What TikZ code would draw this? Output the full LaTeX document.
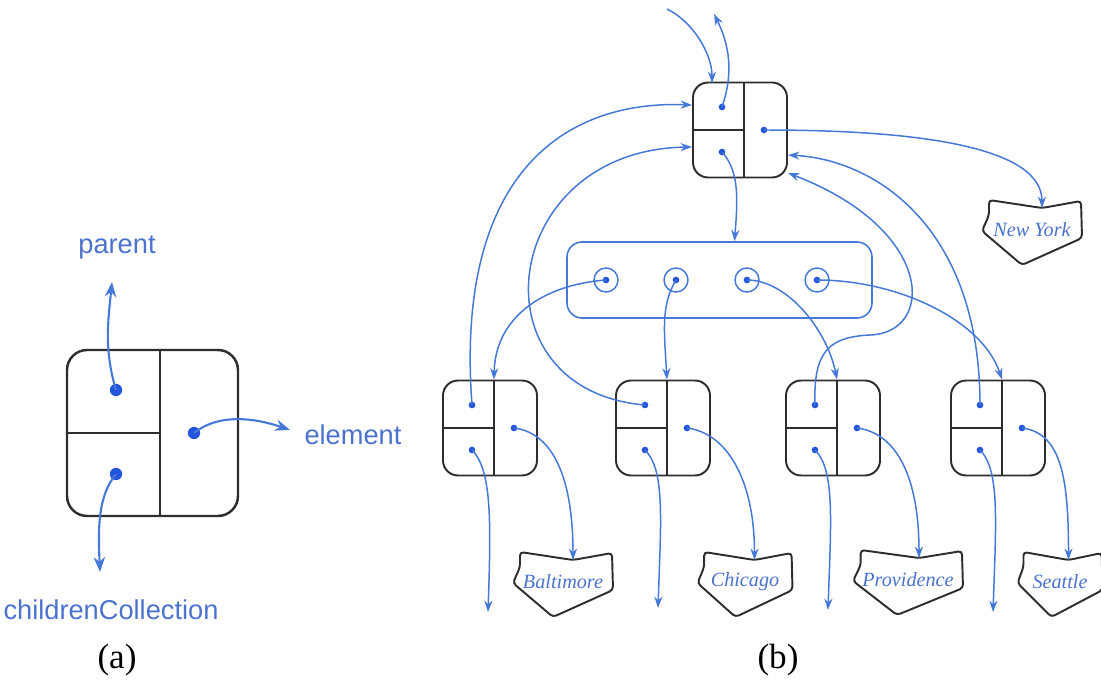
\documentclass[tikz,border=0pt]{standalone}
\usepackage{fontspec}
\setmainfont{Liberation Serif}
\setsansfont{Liberation Sans}
\usetikzlibrary{arrows.meta,calc}
\definecolor{lblue}{RGB}{70,120,215}
\definecolor{dblue}{RGB}{35,85,220}
\definecolor{tblue}{RGB}{75,115,205}
\definecolor{boxc}{RGB}{45,45,45}
\newcommand\qnode[3]{%
  \node[qbox] (#1) at (#2,#3) {};
  \draw[boxline] ($(#1.north)+(4,0)$) -- ($(#1.south)+(4,0)$);
  \draw[boxline] (#1.west) -- ($(#1.center)+(4,0)$);
  \node[bdot] (#1-p) at ($(#1.center)+(-18,-23)$) {};
  \node[bdot] (#1-c) at ($(#1.center)+(-18,22)$) {};
  \node[bdot] (#1-e) at ($(#1.center)+(24,0)$) {};
}
\newcommand\blob[5]{%
  \begin{scope}[shift={(#2,#3)}, xscale=#4]
    \draw[draw=boxc, line width=1.1pt, rounded corners=2pt]
      (-43,-33) -- (10,-25) -- (49,-32) -- (50,5) -- (-10,32) -- (-50,-2) -- (-43,-18) -- cycle;
    \coordinate (#1-top) at (10,-25);
  \end{scope}
  \node[blobtext] (#1) at ($(#2,#3)+(0,-3)$) {#5};
}
\begin{document}
\begin{tikzpicture}[x=0.02cm,y=-0.02cm,
  link/.style={draw=lblue, line width=0.85pt, -{Stealth[length=6.5pt,width=4.6pt]}},
  biglink/.style={draw=lblue, line width=1.2pt, -{Stealth[length=8.5pt,width=6.5pt]}},
  boxline/.style={draw=boxc, line width=1.1pt},
  aline/.style={draw=boxc, line width=1.4pt},
  qbox/.style={draw=boxc, line width=1.1pt, rounded corners=0.3cm, minimum width=1.88cm, minimum height=1.9cm, inner sep=0pt},
  abox/.style={draw=boxc, line width=1.4pt, rounded corners=0.4cm, minimum width=3.42cm, minimum height=3.32cm, inner sep=0pt},
  bdot/.style={circle, fill=dblue, inner sep=0pt, minimum size=3.8pt},
  adot/.style={circle, fill=dblue, inner sep=0pt, minimum size=7pt},
  ring/.style={circle, draw=lblue, line width=0.85pt, inner sep=0pt, minimum size=0.48cm},
  collbox/.style={draw=lblue, line width=0.9pt, rounded corners=0.3cm, minimum width=6.1cm, minimum height=1.52cm, inner sep=0pt},
  alabel/.style={text=tblue, font=\sffamily\fontsize{15.5}{18}\selectfont, inner sep=0pt},
  blobtext/.style={text=tblue, font=\itshape\fontsize{11.5}{13}\selectfont, inner sep=0pt},
  captext/.style={font=\fontsize{20}{24}\selectfont, inner sep=0pt}
]
\useasboundingbox (0,0) rectangle (1101,685);

% ---------- (a) ----------
\node[abox] (A) at (152.5,433) {};
\draw[aline] ($(A.north)+(7.5,0)$) -- ($(A.south)+(7.5,0)$);
\draw[aline] (A.west) -- ($(A.center)+(7.5,0)$);
\node[adot] (A-p) at (116,390) {};
\node[adot] (A-c) at (116,474) {};
\node[adot] (A-e) at (194,433) {};
\node[alabel] (lp) at (117,248) {parent};
\node[alabel] (lc) at (111,610) {childrenCollection};
\node[alabel] (le) at (353,435) {element};
\coordinate (ap) at (112,282);
\coordinate (ac) at (100,572);
\coordinate (ae) at (290,430);
\draw[biglink] (A-p.center) .. controls +(-12,-40) and +(-4,40) .. (ap);
\draw[biglink] (A-c.center) .. controls +(-18,22) and +(-2,-45) .. (ac);
\draw[biglink] (A-e.center) .. controls +(25,-20) and +(-35,-12) .. (ae);
\node[captext] (capa) at (117,660) {(a)};

% ---------- (b) ----------
\qnode{T}{740}{130}
\qnode{C1}{490}{428}
\qnode{C2}{663}{428}
\qnode{C3}{833}{428}
\qnode{C4}{998}{428}

\node[collbox] (coll) at (719.5,280) {};
\foreach \i/\x in {1/606,2/676,3/747,4/817}{
  \node[ring] (k\i) at (\x,280) {};
  \node[bdot] (kd\i) at (\x,280) {};
}

\blob{NY}{1032}{233}{1}{New York}
\blob{B1}{563}{585}{1}{Baltimore}
\blob{B2}{745}{585}{0.95}{Chicago}
\blob{B3}{908}{583}{1.1}{Providence}
\blob{B4}{1060}{585}{0.85}{Seattle}

% top node links
\coordinate (Tfrom) at (667,9);
\coordinate (Tin) at (712,83);
\coordinate (Tout) at (714,14);
\draw[link] (Tfrom) .. controls +(25,12) and +(0,-30) .. (Tin);
\draw[link] (T-p.center) .. controls +(12,-35) and +(15,30) .. (Tout);
\draw[link] (T-c.center) .. controls +(18,20) and +(3,-40) .. ($(coll.north)+(15,0)$);
\draw[link] (T-e.center) .. controls +(160,0) and +(0,-60) .. (NY-top);

% parent links of children
\draw[link] (C1-p.center) .. controls +(-17,-225) and +(-133,-5) .. ($(T.west)+(0,-25)$);
\draw[link] (C2-p.center) .. controls +(-175,-15) and +(-193,3) .. ($(T.west)+(0,17)$);
\draw[link] (C4-p.center) .. controls +(0,-175) and +(90,5) .. ($(T.east)+(0,25)$);
\coordinate (bend3) at (870,335);
\draw[link] (C3-p.center) .. controls +(-2,-55) and +(-40,2) .. (bend3)
   .. controls +(65,-2) and +(148,57) .. ($(T.east)+(0,43)$);

% collection to children
\draw[link] (k1.center) .. controls +(-66,5) and +(1,-60) .. ($(C1.north)+(4,0)$);
\draw[link] (k2.center) .. controls +(-15,25) and +(-3,-50) .. ($(C2.north)+(4,0)$);
\draw[link] (k3.center) .. controls +(40,0) and +(-10,-50) .. ($(C3.north)+(4,0)$);
\draw[link] (k4.center) .. controls +(80,0) and +(-20,-60) .. ($(C4.north)+(4,0)$);

% children downward and element links
\coordinate (D1) at (488,612);
\coordinate (D2) at (658,608);
\coordinate (D3) at (828,610);
\coordinate (D4) at (993,612);
\foreach \i in {1,2,3,4}{
  \draw[link] (C\i-c.center) .. controls +(20,20) and +(3,-90) .. (D\i);
  \draw[link] (C\i-e.center) .. controls +(40,5) and +(0,-80) .. (B\i-top);
}
\node[captext] (capb) at (778,660) {(b)};
\end{tikzpicture}
\end{document}
